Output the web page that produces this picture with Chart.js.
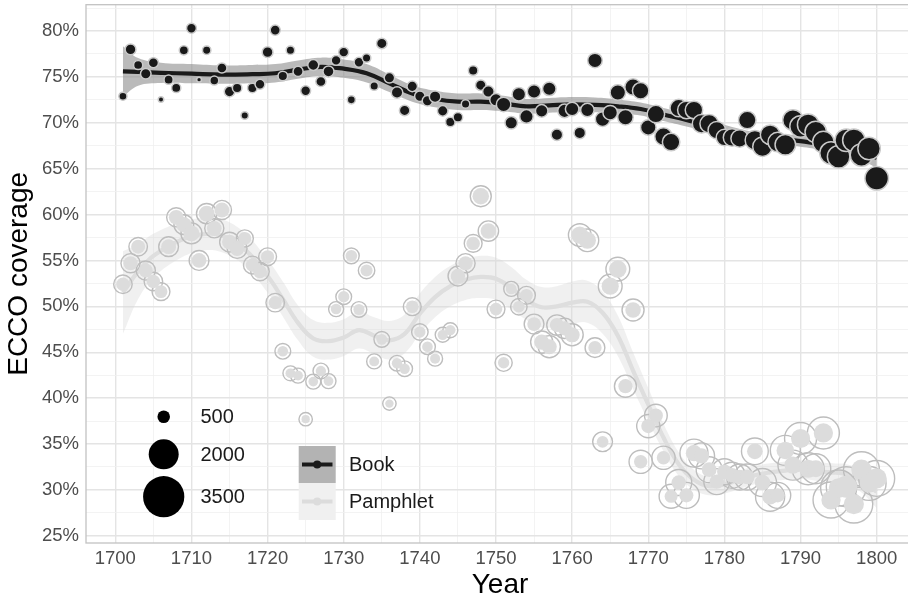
<!DOCTYPE html>
<html lang="en">
<head>
<meta charset="UTF-8">
<script src="https://cdn.jsdelivr.net/npm/chart.js"></script>
<title>ECCO coverage</title>
<style>
  html, body { margin: 0; padding: 0; background: #fff; overflow: hidden; }
  #wrap { width: 916px; height: 600px; }
</style>
</head>
<body>
<div id="wrap"><canvas id="chart" width="916" height="600"></canvas></div>
<script>
// one point per year and per type
const years = [1701,1702,1703,1704,1705,1706,1707,1708,1709,1710,
  1711,1712,1713,1714,1715,1716,1717,1718,1719,1720,
  1721,1722,1723,1724,1725,1726,1727,1728,1729,1730,
  1731,1732,1733,1734,1735,1736,1737,1738,1739,1740,
  1741,1742,1743,1744,1745,1746,1747,1748,1749,1750,
  1751,1752,1753,1754,1755,1756,1757,1758,1759,1760,
  1761,1762,1763,1764,1765,1766,1767,1768,1769,1770,
  1771,1772,1773,1774,1775,1776,1777,1778,1779,1780,
  1781,1782,1783,1784,1785,1786,1787,1788,1789,1790,
  1791,1792,1793,1794,1795,1796,1797,1798,1799,1800];

// coverage in %
const bookCoverage = [72.9,78.0,76.3,75.35,76.55,72.55,74.7,73.8,77.9,80.3,
  74.7,77.9,74.6,75.97,73.4,73.8,70.8,73.8,74.2,77.7,
  80.1,75.1,77.9,75.6,73.5,76.3,74.5,75.6,76.8,77.7,
  72.5,76.6,77.05,74.0,78.65,74.9,73.3,71.35,73.97,72.9,
  72.4,72.85,71.3,70.1,70.6,72.05,75.7,74.1,73.4,72.5,
  72.0,70.0,73.1,70.7,73.4,71.3,73.7,68.7,71.3,71.5,
  68.9,71.4,76.8,70.4,71.1,73.3,70.6,73.9,73.5,69.5,
  70.95,68.5,67.9,71.6,71.4,71.4,69.9,69.9,69.2,68.4,
  68.4,68.3,70.3,68.1,67.4,68.7,67.9,67.6,70.3,69.6,
  69.8,69.0,67.9,66.7,66.3,68.1,68.1,66.5,67.2,63.95];

const pamphletCoverage = [52.4,54.7,56.5,53.9,52.7,51.6,56.5,59.7,58.9,57.95,
  55.0,60.1,58.5,60.5,57.0,56.3,57.4,54.5,53.8,55.4,
  50.4,45.1,42.7,42.45,37.7,41.8,42.95,41.85,49.7,51.05,
  55.5,49.66,53.9,44.0,46.4,39.4,43.8,43.2,49.96,47.2,
  45.6,44.3,46.9,47.4,53.3,54.7,56.86,62.0,58.2,49.7,
  43.85,51.9,49.96,51.2,48.07,46.1,45.6,47.96,47.6,46.9,
  57.77,57.2,45.5,35.24,52.2,54.06,41.3,49.6,33.06,36.95,
  38.1,33.5,29.3,30.8,29.4,34.0,33.7,32.2,30.9,31.97,
  31.6,31.4,31.4,34.2,30.8,29.25,29.4,34.3,32.7,35.6,
  32.3,32.3,36.2,28.9,30.2,30.35,28.45,32.2,30.7,31.25];

// number of titles (size aesthetic)
const bookTitles = [217,330,260,320,300,130,260,260,260,290,
  110,230,250,300,320,275,195,275,290,330,
  300,275,233,300,290,340,300,340,290,290,
  217,290,233,233,318,318,365,318,318,318,
  318,365,318,274,274,233,274,318,365,416,
  528,416,470,470,470,416,470,365,470,470,
  365,470,528,528,528,587,587,650,650,587,
  718,718,718,718,718,718,790,790,718,650,
  718,718,718,862,862,862,862,940,940,1019,
  1019,1019,1019,1100,1100,1100,1100,1100,1100,1190];

const pamphletTitles = [900,950,900,950,900,850,1000,950,1000,1100,
  1000,1050,950,950,1000,1000,800,850,900,850,
  900,700,650,650,550,650,700,650,650,700,
  700,700,750,650,700,550,700,700,850,750,
  700,650,650,650,1000,950,850,1100,1050,850,
  800,650,750,850,1000,1200,1200,1050,1050,1200,
  1250,1250,1000,1000,1350,1350,1190,1190,1300,1300,
  1250,1300,1373,1570,1570,1780,1570,1570,1570,1570,
  1570,1570,1570,1650,1780,1900,1570,2000,2000,2240,
  2240,2000,2240,2740,2740,3300,3000,2740,2480,2740];

// loess fits with confidence band
const bookFitYears = [1701,1703,1706,1710,1714,1718,1721,1724,1727,1730,1733,1736,1739,1742,1745,1748,1751,1754,1757,1760,1763,1766,1769,1772,1775,1778,1781,1784,1787,1790,1793,1796,1798,1800];
const bookFit = [75.6,75.55,75.45,75.35,75.25,75.3,75.4,75.8,76.1,75.9,75.4,74.3,73.2,72.6,72.3,72.3,72.1,71.8,71.9,72.0,71.95,71.8,71.5,70.9,70.3,69.6,68.9,68.4,68.2,68.0,67.6,67.1,66.7,66.2];
const bookLo = [72.85,74.05,74.35,74.3,74.25,74.3,74.4,74.8,75.1,74.9,74.4,73.35,72.3,71.7,71.4,71.4,71.25,71.0,71.1,71.2,71.15,71.05,70.8,70.2,69.6,68.95,68.25,67.8,67.6,67.4,67.0,66.4,65.9,65.1];
const bookHi = [78.35,77.05,76.55,76.4,76.25,76.3,76.4,76.8,77.1,76.9,76.4,75.25,74.1,73.5,73.2,73.2,72.95,72.6,72.7,72.8,72.75,72.55,72.2,71.6,71.0,70.25,69.55,69.0,68.8,68.6,68.2,67.8,67.5,67.3];

const pamphletFitYears = [1701,1703,1705,1708,1711,1714,1717,1720,1722,1724,1726,1728,1730,1732,1734,1736,1738,1740,1742,1744,1746,1748,1750,1752,1754,1756,1758,1760,1762,1764,1766,1768,1770,1772,1774,1776,1778,1780,1782,1784,1786,1788,1790,1792,1794,1796,1798,1800];
const pamphletFit = [51.5,53.8,55.5,57.0,57.8,57.7,56.2,53.3,50.8,48.2,46.5,46.2,46.6,47.4,46.8,46.3,47.0,49.2,51.0,52.2,52.9,53.2,53.0,52.0,50.7,49.9,50.0,50.4,50.5,49.3,46.8,43.0,39.3,35.7,32.8,31.1,30.4,30.6,31.1,31.6,31.9,32.1,32.2,32.0,31.9,31.7,31.0,29.8];
const pamphletLo = [47.0,50.8,53.1,55.0,56.0,55.9,54.4,51.5,48.9,46.3,44.5,44.2,44.6,45.4,44.8,44.2,44.9,47.0,48.8,50.0,50.7,50.9,50.7,49.7,48.5,47.7,47.8,48.1,48.2,47.0,44.6,41.0,37.5,34.2,31.5,30.0,29.4,29.6,30.1,30.6,30.9,31.1,31.2,31.0,30.9,30.6,29.7,28.0];
const pamphletHi = [56.0,56.8,57.9,59.0,59.6,59.5,58.0,55.1,52.7,50.1,48.5,48.2,48.6,49.4,48.8,48.4,49.1,51.4,53.2,54.4,55.1,55.5,55.3,54.3,52.9,52.1,52.2,52.7,52.8,51.6,49.0,45.0,41.1,37.2,34.1,32.2,31.4,31.6,32.1,32.6,32.9,33.1,33.2,33.0,32.9,32.8,32.3,31.6];

// axes
const xTicks = [1700,1705,1710,1715,1720,1725,1730,1735,1740,1745,1750,1755,1760,1765,1770,1775,1780,1785,1790,1795,1800];
const yTicks = [25,27.5,30,32.5,35,37.5,40,42.5,45,47.5,50,52.5,55,57.5,60,62.5,65,67.5,70,72.5,75,77.5,80,82.5];
const sizeBreaks = [500, 2000, 3500];
const typeLabels = ['Book', 'Pamphlet'];

const FONT = '"Liberation Sans", Arial, sans-serif';
const BOOK = '#1a1a1a';
const PAMPH = '#dcdcdc';

// area-like size scale, calibrated on the legend circles
function sizeR(n) { return -2.45 + 0.39 * Math.sqrt(n); }

const pts = (xs, ys) => xs.map((x, i) => ({ x: x, y: ys[i] }));

function bandSets(xs, lo, hi, color, order) {
    return [{
        type: 'line', data: pts(xs, hi), fill: '+1', backgroundColor: color,
        borderWidth: 0, pointRadius: 0, tension: 0.4, order: order
    }, {
        type: 'line', data: pts(xs, lo), fill: false,
        borderWidth: 0, pointRadius: 0, tension: 0.4, order: order
    }];
}

// fixed panel: no extra room for tick labels
function noPad(s) {
    s.paddingLeft = 0; s.paddingRight = 0; s.paddingTop = 0; s.paddingBottom = 0;
}

const decor = {
    id: 'decor',
    afterDatasetsDraw(chart) {
        const a = chart.chartArea, c = chart.ctx;
        c.save();
        c.strokeStyle = '#c2c2c2';
        c.lineWidth = 1.3;
        c.strokeRect(a.left, a.top, a.right - a.left, a.bottom - a.top);
        c.restore();
    },
    afterDraw(chart) {
        const c = chart.ctx, a = chart.chartArea;
        c.save();
        // axis titles
        c.fillStyle = '#000';
        c.font = '28px ' + FONT;
        c.textAlign = 'center';
        c.textBaseline = 'middle';
        c.fillText('Year', (a.left + a.right) / 2, 585);
        c.translate(19, (a.top + a.bottom) / 2);
        c.rotate(-Math.PI / 2);
        c.fillText('ECCO coverage', 0, 0);
        c.setTransform(1, 0, 0, 1, 0, 0);

        // size legend
        const sy = [416.7, 454.3, 496.7];
        c.font = '20px ' + FONT;
        c.textAlign = 'left';
        sizeBreaks.forEach((n, i) => {
            c.fillStyle = '#000';
            c.beginPath();
            c.arc(163.7, sy[i], sizeR(n), 0, Math.PI * 2);
            c.fill();
            c.fillStyle = '#1a1a1a';
            c.fillText(String(n), 200.5, sy[i] + 1);
        });

        // type legend
        const keys = [
            { y: 446, box: '#b3b3b3', line: BOOK },
            { y: 483, box: '#f0f0f0', line: PAMPH }
        ];
        keys.forEach((k, i) => {
            c.fillStyle = k.box;
            c.fillRect(298.7, k.y, 37, 37);
            const my = k.y + 18.5;
            c.strokeStyle = k.line;
            c.lineWidth = 4;
            c.beginPath();
            c.moveTo(302, my);
            c.lineTo(332.5, my);
            c.stroke();
            c.fillStyle = k.line;
            c.beginPath();
            c.arc(317.2, my, 4, 0, Math.PI * 2);
            c.fill();
            c.fillStyle = '#1a1a1a';
            c.fillText(typeLabels[i], 349, my + 1);
        });
        c.restore();
    }
};

new Chart(document.getElementById('chart'), {
    type: 'scatter',
    data: {
        datasets: [
            ...bandSets(pamphletFitYears, pamphletLo, pamphletHi, 'rgba(215,215,215,0.38)', 9),
            {
                type: 'line', data: pts(pamphletFitYears, pamphletFit), borderColor: '#dedede',
                borderWidth: 4.2, pointRadius: 0, tension: 0.4, fill: false, order: 8
            },
            ...bandSets(bookFitYears, bookLo, bookHi, 'rgba(140,140,140,0.6)', 7),
            {
                type: 'line', data: pts(bookFitYears, bookFit), borderColor: BOOK,
                borderWidth: 4.2, pointRadius: 0, tension: 0.4, fill: false, order: 6
            },
            {   // pamphlet outer rings
                data: pts(years, pamphletCoverage),
                pointRadius: ctx => sizeR(pamphletTitles[ctx.dataIndex]),
                pointBackgroundColor: 'rgba(255,255,255,0)',
                pointBorderColor: '#bdbdbd',
                pointBorderWidth: 1.4,
                order: 5
            },
            {   // pamphlet filled part
                data: pts(years, pamphletCoverage),
                pointRadius: ctx => sizeR(pamphletTitles[ctx.dataIndex]) * Math.sqrt(pamphletCoverage[ctx.dataIndex] / 100),
                pointBackgroundColor: PAMPH,
                pointBorderWidth: 0,
                order: 4
            },
            {
                data: pts(years, bookCoverage),
                pointRadius: ctx => sizeR(bookTitles[ctx.dataIndex]) + 0.75,
                pointBackgroundColor: BOOK,
                pointBorderColor: '#cacaca',
                pointBorderWidth: 1.5,
                order: 3
            }
        ]
    },
    options: {
        responsive: false,
        animation: false,
        devicePixelRatio: 1,
        layout: { autoPadding: false, padding: { top: 4.7, right: 2, left: 0, bottom: 0 } },
        plugins: { legend: { display: false }, tooltip: { enabled: false } },
        scales: {
            x: {
                type: 'linear', min: 1696.15, max: 1804.9,
                afterBuildTicks: s => { s.ticks = xTicks.map(v => ({ value: v })); },
                afterFit: s => { s.height = 57; noPad(s); },
                border: { display: false },
                grid: {
                    drawTicks: false,
                    color: c => c.tick && c.tick.value % 10 === 0 ? '#e4e4e4' : '#f0f0f0',
                    lineWidth: c => c.tick && c.tick.value % 10 === 0 ? 1.4 : 0.8
                },
                ticks: {
                    autoSkip: false, maxRotation: 0, padding: 5,
                    color: '#4d4d4d', font: { family: FONT, size: 18.5 },
                    callback: v => v % 10 === 0 ? String(v) : ''
                }
            },
            y: {
                min: 24.21, max: 82.87,
                afterBuildTicks: s => { s.ticks = yTicks.map(v => ({ value: v })); },
                afterFit: s => { s.width = 86; noPad(s); },
                border: { display: false },
                grid: {
                    drawTicks: false,
                    color: c => c.tick && c.tick.value % 5 === 0 ? '#e4e4e4' : '#f0f0f0',
                    lineWidth: c => c.tick && c.tick.value % 5 === 0 ? 1.4 : 0.8
                },
                ticks: {
                    autoSkip: false, padding: 7,
                    color: '#4d4d4d', font: { family: FONT, size: 18.5 },
                    callback: v => v % 5 === 0 ? v + '%' : ''
                }
            }
        }
    },
    plugins: [decor]
});
</script>
</body>
</html>
